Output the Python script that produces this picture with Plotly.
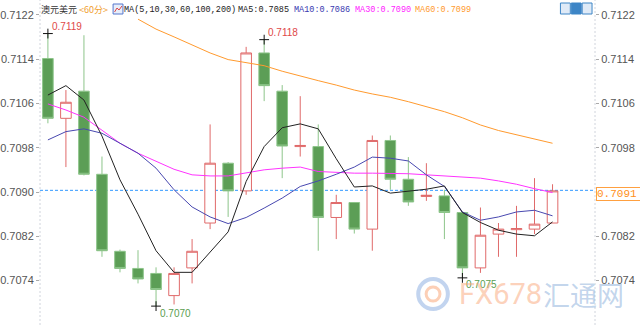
import plotly.graph_objects as go

# ---------------- data (AUD/USD, 60-minute candles) ----------------
idx = list(range(29))
open_ = [0.71141, 0.71033, 0.71082, 0.70932, 0.70793, 0.70762, 0.70753, 0.70713, 0.70763, 0.70844,
         0.70952, 0.70902, 0.71151, 0.71082, 0.70982, 0.70982, 0.70854, 0.70881, 0.70833, 0.70993,
         0.70923, 0.70892, 0.70893, 0.70863, 0.70763, 0.70824, 0.70832, 0.70833, 0.70844]
high = [0.71186, 0.71084, 0.71183, 0.70964, 0.70796, 0.70795, 0.70764, 0.70764, 0.70815, 0.71022,
        0.70954, 0.71162, 0.71175, 0.71093, 0.71073, 0.71022, 0.70895, 0.70882, 0.71002, 0.71002,
        0.70963, 0.70952, 0.70904, 0.70863, 0.70872, 0.70844, 0.70875, 0.70925, 0.70914]
low = [0.71024, 0.70945, 0.70930, 0.70783, 0.70755, 0.70735, 0.70694, 0.70697, 0.70735, 0.70833,
       0.70855, 0.70895, 0.71064, 0.70925, 0.70964, 0.70794, 0.70815, 0.70825, 0.70794, 0.70904,
       0.70875, 0.70884, 0.70815, 0.70745, 0.70754, 0.70783, 0.70783, 0.70824, 0.70844]
close = [0.71033, 0.71062, 0.70932, 0.70794, 0.70762, 0.70743, 0.70724, 0.70753, 0.70793, 0.70952,
         0.70902, 0.71151, 0.71092, 0.70983, 0.70984, 0.70854, 0.70881, 0.70833, 0.70993, 0.70923,
         0.70882, 0.70894, 0.70863, 0.70763, 0.70822, 0.70833, 0.70834, 0.70842, 0.70902]

ma5 = [0.71075, 0.71092, 0.71066, 0.71001, 0.70922, 0.70860, 0.70794, 0.70755, 0.70755, 0.70792,
       0.70828, 0.70919, 0.70982, 0.71016, 0.71023, 0.71014, 0.70960, 0.70909, 0.70911, 0.70898,
       0.70902, 0.70905, 0.70911, 0.70863, 0.70845, 0.70831, 0.70824, 0.70821, 0.70846]
ma10 = [0.70994, 0.71009, 0.71014, 0.71006, 0.70988, 0.70970, 0.70943, 0.70904, 0.70873, 0.70855,
        0.70843, 0.70854, 0.70871, 0.70889, 0.70910, 0.70920, 0.70932, 0.70945, 0.70963, 0.70961,
        0.70956, 0.70931, 0.70910, 0.70864, 0.70849, 0.70855, 0.70864, 0.70867, 0.70857]
ma30 = [0.71059, 0.71048, 0.71035, 0.71012, 0.70988, 0.70970, 0.70955, 0.70941, 0.70931, 0.70929,
        0.70929, 0.70934, 0.70940, 0.70943, 0.70945, 0.70937, 0.70935, 0.70934, 0.70934, 0.70934,
        0.70933, 0.70931, 0.70929, 0.70928, 0.70925, 0.70920, 0.70914, 0.70906, 0.70899]
ma60 = [None, None, None, None, None, 0.71212, 0.71194, 0.71180, 0.71165, 0.71151,
        0.71139, 0.71134, 0.71128, 0.71118, 0.71109, 0.71101, 0.71093, 0.71084, 0.71077, 0.71071,
        0.71063, 0.71054, 0.71045, 0.71034, 0.71021, 0.71011, 0.71003, 0.70995, 0.70988]

tick_vals = [0.7074, 0.7082, 0.7090, 0.7098, 0.7106, 0.7114, 0.7122]
tick_text = ["0.7074", "0.7082", "0.7090", "0.7098", "0.7106", "0.7114", "0.7122"]

title_text = "澳元美元"
period_text = "<60分>"
ma_text = "MA(5,10,30,60,100,200)"
legend_items = [("MA5:0.7085", "#222222", 232), ("MA10:0.7086", "#3838b0", 289),
                ("MA30:0.7090", "#ff22ff", 351), ("MA60:0.7099", "#ff9a2e", 412)]
last_price_label = "0.7091"
current_line = 0.70903
extreme_marks = [(0, high[0], "0.7119", "#e04848", 1), (12, high[12], "0.7118", "#e04848", 1),
                 (6, low[6], "0.7070", "#5a9e50", -1), (23, low[23], "0.7075", "#5a9e50", -1)]

# ---------------- geometry helpers ----------------
W, H = 640, 330
ML, MR, MT, MB = 33, 45, 0, 5
PW, PH = W - ML - MR, H - MT - MB
def px(x):
    return (x - ML) / PW
def py(y):
    return 1 - (y - MT) / PH

y_top = 0.7090 + 192 / 55400
y_bot = 0.7090 - 133 / 55400

fig = go.Figure()

fig.add_trace(go.Candlestick(
    x=idx, open=open_, high=high, low=low, close=close,
    increasing=dict(line=dict(color="#e06a6a", width=1), fillcolor="#ffffff"),
    decreasing=dict(line=dict(color="#8dc58a", width=1), fillcolor="#5c9e56"),
    whiskerwidth=0, hoverinfo="skip"))

for vals, col in [(ma60, "#ff9a2e"), (ma30, "#ff33ff"), (ma10, "#4848b0"), (ma5, "#222222")]:
    fig.add_trace(go.Scatter(x=idx, y=vals, mode="lines", line=dict(color=col, width=1),
                             hoverinfo="skip"))

fig.add_trace(go.Scatter(x=[m[0] for m in extreme_marks], y=[m[1] for m in extreme_marks],
                         mode="markers", marker=dict(symbol="cross-thin", size=7,
                         line=dict(color="#111111", width=1)), hoverinfo="skip"))

# right axis companion trace
fig.add_trace(go.Scatter(x=[idx[0]], y=[close[0]], yaxis="y2", mode="markers",
                         marker=dict(opacity=0), hoverinfo="skip"))

shapes = []
# header band
shapes.append(dict(type="rect", xref="paper", yref="paper", x0=0, x1=1, y0=py(18), y1=1.0,
                   fillcolor="white", line=dict(width=0), layer="above"))
# axis lines (dotted)
shapes.append(dict(type="line", xref="paper", yref="paper", x0=0, x1=0, y0=0, y1=1,
                   line=dict(color="#d0d4dc", width=1, dash="2px,2px")))
shapes.append(dict(type="line", xref="paper", yref="paper", x0=1, x1=1, y0=0, y1=1,
                   line=dict(color="#d0d4dc", width=1, dash="2px,2px")))
# current price line
shapes.append(dict(type="line", xref="paper", yref="y", x0=0, x1=1, y0=current_line, y1=current_line,
                   line=dict(color="#3399ff", width=1, dash="3px,2px"), layer="below"))
# MA icon
shapes.append(dict(type="rect", xref="paper", yref="paper", x0=px(107), x1=px(117), y0=py(14), y1=py(4),
                   fillcolor="#e8eefa", line=dict(color="#5577cc", width=1), layer="above"))
shapes.append(dict(type="path", xref="paper", yref="paper",
                   path=f"M {px(108.5)} {py(12)} L {px(111)} {py(8)} L {px(113)} {py(10)} L {px(116)} {py(6)}",
                   line=dict(color="#dd4444", width=1), layer="above"))
# top-right icons
for i, x0 in enumerate([560, 571, 582]):
    shapes.append(dict(type="rect", xref="paper", yref="paper", x0=px(x0), x1=px(x0 + 10),
                       y0=py(14), y1=py(3),
                       fillcolor="#3d85c6" if i == 1 else "#dfeaf7",
                       line=dict(color="#3d85c6", width=1), layer="above"))
# watermark logo
shapes.append(dict(type="circle", xref="paper", yref="paper", x0=px(416), x1=px(446), y0=py(309), y1=py(279),
                   line=dict(color="rgba(120,160,220,0.45)", width=4), layer="above"))
shapes.append(dict(type="circle", xref="paper", yref="paper", x0=px(424), x1=px(438), y0=py(301), y1=py(287),
                   line=dict(color="rgba(250,160,110,0.5)", width=3), layer="above"))

annotations = []
def ann(text, x, y, color, size, family, **kw):
    d = dict(text=text, xref="paper", yref="paper", x=px(x), y=py(y), xanchor="left", yanchor="middle",
             showarrow=False, borderpad=0, font=dict(color=color, size=size, family=family))
    d.update(kw)
    annotations.append(d)

ann(title_text, 33, 9.5, "#333333", 9, "Noto Sans CJK SC")
ann(period_text, 71, 9.5, "#f0a030", 9, "Noto Sans CJK SC")
ann(ma_text, 117, 9.5, "#222222", 8.5, "Liberation Mono")
for t, c, x in legend_items:
    ann(t, x, 9.5, c, 8.5, "Liberation Mono")

for xi, yv, t, c, d in extreme_marks:
    annotations.append(dict(text=t, x=xi, y=yv, xref="x", yref="y", xanchor="left", yanchor="middle",
                            xshift=2, yshift=7 * d, showarrow=False,
                            font=dict(color=c, size=10, family="Liberation Sans")))

# last price box on right axis
annotations.append(dict(text=last_price_label, xref="paper", yref="paper", x=px(596), y=py(194),
                        xanchor="left", yanchor="middle", showarrow=False, bgcolor="white",
                        bordercolor="#ffa040", borderwidth=1, borderpad=0, width=44, align="left",
                        font=dict(color="#ff9020", size=11, family="Liberation Mono")))

# watermark text
ann("FX678", 456, 294, "rgba(250,165,120,0.5)", 29, "Roboto")
ann("汇通网", 541, 294, "rgba(110,155,210,0.42)", 27, "Noto Sans CJK SC")

axis_common = dict(range=[y_bot, y_top], tickvals=tick_vals, ticktext=tick_text,
                   ticks="outside", ticklen=3, tickcolor="#aaaaaa", showgrid=False, zeroline=False,
                   tickfont=dict(family="Liberation Sans", size=11, color="#555555"), fixedrange=True)

fig.update_layout(
    width=W, height=H, margin=dict(l=ML, r=MR, t=MT, b=MB),
    paper_bgcolor="white", plot_bgcolor="white", showlegend=False,
    boxgap=0.16,
    xaxis=dict(range=[(ML - 41) / 18.25, (ML + PW - 41) / 18.25], visible=False,
               rangeslider=dict(visible=False)),
    yaxis=dict(side="left", **axis_common),
    yaxis2=dict(side="right", overlaying="y", **axis_common),
    shapes=shapes, annotations=annotations,
)

fig.write_html("out.html")
